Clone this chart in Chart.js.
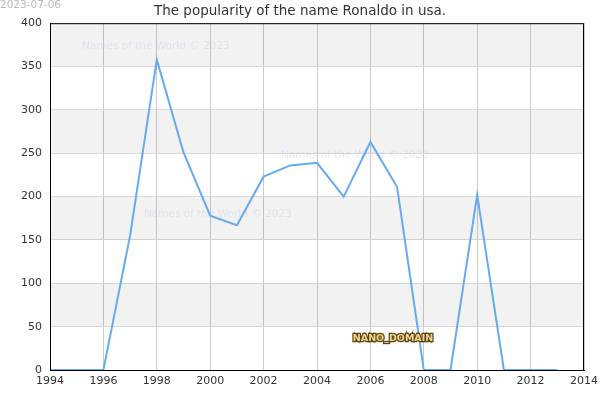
<!DOCTYPE html>
<html>
<head>
<meta charset="utf-8">
<script src="https://cdn.jsdelivr.net/npm/chart.js@4.4.0/dist/chart.umd.min.js"></script>
<style>
  html, body { margin: 0; padding: 0; background: #fff; }
  #wrap { width: 600px; height: 400px; }
</style>
</head>
<body>
<div id="wrap"><canvas id="chart_name"></canvas></div>
<script>
const years = [1994, 1995, 1996, 1997, 1998, 1999, 2000, 2001, 2002, 2003, 2004, 2005, 2006, 2007, 2008, 2009, 2010, 2011, 2012, 2013];
const births = [0, 0, 0, 155, 358, 251, 178, 167, 223, 236, 239, 200, 263, 211, 0, 0, 202, 0, 0, 0];
const yTicks = [0, 50, 100, 150, 200, 250, 300, 350, 400];
const xTicks = [1994, 1996, 1998, 2000, 2002, 2004, 2006, 2008, 2010, 2012, 2014];

const titleText = 'The popularity of the name Ronaldo in usa.';
const dateText = '2023-07-06';
const markText = 'Names of the World \u00a9 2023';

const points = years.map((y, i) => ({ x: y, y: births[i] }));

// grey bands every other 50, plus frame and extra texts
const decorations = {
    id: 'decorations',
    beforeDatasetsDraw(chart) {
        const { ctx, chartArea: { left, right, top, bottom }, scales: { y } } = chart;
        ctx.save();
        ctx.fillStyle = 'rgba(0,0,0,0.05)';
        for (let i = 0; i < yTicks.length - 1; i++) {
            if (i % 2 === 1) {
                const y1 = y.getPixelForValue(yTicks[i]);
                const y2 = y.getPixelForValue(yTicks[i + 1]);
                ctx.fillRect(left, y2, right - left, y1 - y2);
            }
        }
        // watermarks
        ctx.font = '10.5px "DejaVu Sans"';
        ctx.fillStyle = 'rgba(190,190,235,0.35)';
        ctx.textAlign = 'left';
        ctx.textBaseline = 'middle';
        ctx.fillText(markText, 82, 46);
        ctx.fillText(markText, 281, 155);
        ctx.fillText(markText, 144, 214);
        ctx.restore();
    },
    afterDraw(chart) {
        const { ctx, chartArea: { left, right, top, bottom } } = chart;
        ctx.save();
        ctx.strokeStyle = '#000';
        ctx.lineWidth = 1;
        ctx.strokeRect(left + 0.5, top + 0.5, right - left - 1, bottom - top);
        ctx.font = '10.5px "DejaVu Sans"';
        ctx.fillStyle = '#bbb';
        ctx.textAlign = 'left';
        ctx.textBaseline = 'top';
        ctx.fillText(dateText, 0, 0);

        ctx.font = 'bold 9.5px "DejaVu Sans"';
        ctx.textAlign = 'center';
        ctx.textBaseline = 'middle';
        ctx.lineWidth = 2.5;
        ctx.strokeStyle = '#5a4310';
        ctx.strokeText('NANO_DOMAIN', 393, 339);
        ctx.fillStyle = '#f0d890';
        ctx.fillText('NANO_DOMAIN', 393, 339);
        ctx.restore();
    }
};

new Chart(document.getElementById('chart_name'), {
    type: 'line',
    data: {
        datasets: [{
            data: points,
            borderColor: 'rgb(102,170,240)',
            borderWidth: 2,
            pointRadius: 0,
            tension: 0,
            fill: false
        }]
    },
    plugins: [decorations],
    options: {
        responsive: true,
        maintainAspectRatio: false,
        animation: false,
        layout: {
            padding: 0
        },
        scales: {
            x: {
                type: 'linear',
                min: 1994,
                max: 2014,
                afterBuildTicks: (axis) => { axis.ticks = xTicks.map(v => ({ value: v })); },
                afterFit: (axis) => {
                    axis.height = 30;
                    axis.paddingLeft = 0;
                    axis.paddingRight = 16;
                },
                grid: { color: '#ccc', drawTicks: false },
                border: { color: '#000' },
                ticks: {
                    color: '#333',
                    font: { family: 'DejaVu Sans', size: 11 },
                    padding: 5,
                    maxRotation: 0,
                    callback: (v) => String(v)
                }
            },
            y: {
                min: 0,
                max: 400,
                afterBuildTicks: (axis) => { axis.ticks = yTicks.map(v => ({ value: v })); },
                afterFit: (axis) => { axis.width = 50; },
                grid: { color: '#ddd', drawTicks: false },
                border: { color: '#000' },
                ticks: {
                    color: '#333',
                    font: { family: 'DejaVu Sans', size: 11 },
                    padding: 8
                }
            }
        },
        plugins: {
            legend: { display: false },
            tooltip: { enabled: false },
            title: {
                display: true,
                text: titleText,
                color: '#333',
                font: { family: 'DejaVu Sans', size: 13.5, weight: 'normal' },
                padding: { top: 3, bottom: 4 }
            }
        }
    }
});
</script>
</body>
</html>
